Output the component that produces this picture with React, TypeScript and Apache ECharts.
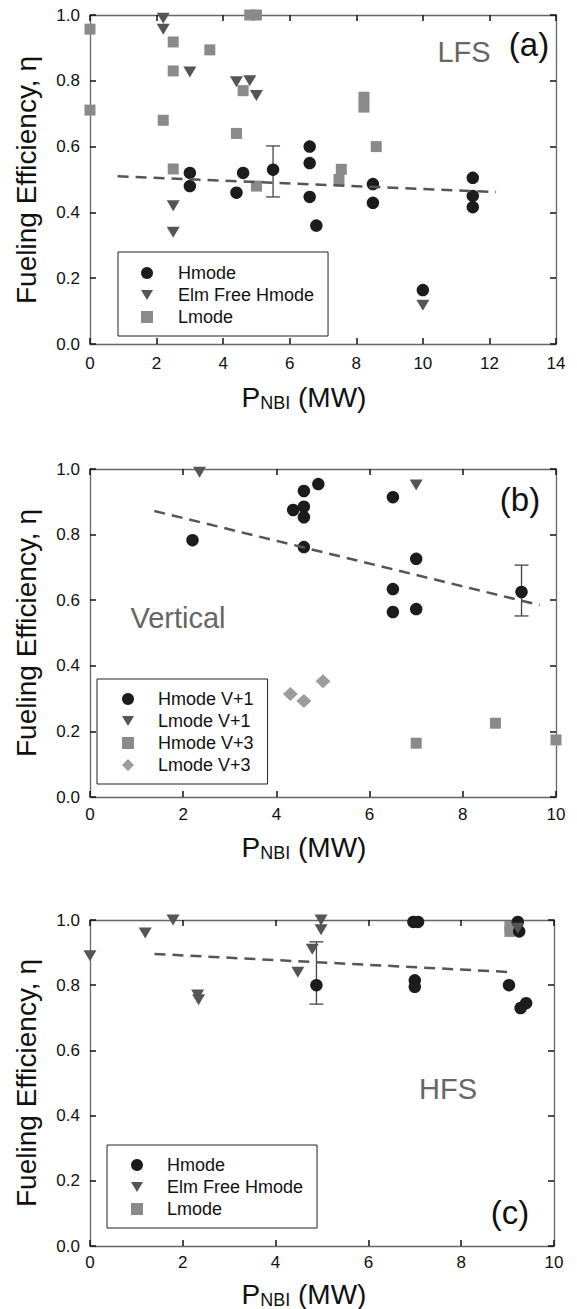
import React, { useEffect, useRef } from "react";
import * as echarts from "echarts";

// ---------- Data ----------
// Panel (a) LFS
const lfsHmode: number[][] = [
  [3.0, 0.52], [3.0, 0.48], [4.4, 0.46], [4.6, 0.52], [5.5, 0.53], [6.6, 0.6], [6.6, 0.55],
  [6.6, 0.447], [6.8, 0.36], [8.5, 0.486], [8.5, 0.429], [10.0, 0.164], [11.5, 0.505],
  [11.5, 0.45], [11.5, 0.416],
];
const lfsElmFree: number[][] = [
  [2.2, 0.99], [2.2, 0.957], [3.0, 0.827], [4.4, 0.797], [4.8, 0.8], [5.0, 0.755],
  [2.5, 0.42], [2.5, 0.34], [10.0, 0.118],
];
const lfsLmode: number[][] = [
  [0, 0.957], [0, 0.711], [2.2, 0.68], [2.5, 0.918], [2.5, 0.83], [2.5, 0.532], [3.6, 0.894],
  [4.4, 0.64], [4.6, 0.77], [4.8, 1.0], [5.0, 1.0], [5.0, 0.48], [7.55, 0.531], [7.48, 0.5],
  [8.23, 0.75], [8.23, 0.72], [8.6, 0.6],
];
const lfsFit: number[][] = [[0.83, 0.51], [12.2, 0.462]];
const lfsErr: number[][] = [[5.5, 0.447, 0.602]];

// Panel (b) Vertical
const vertHmodeV1: number[][] = [
  [2.2, 0.783], [4.36, 0.875], [4.59, 0.885], [4.59, 0.933], [4.59, 0.853], [4.59, 0.762],
  [4.9, 0.954], [6.5, 0.914], [6.5, 0.634], [6.5, 0.564], [7.0, 0.726], [7.0, 0.573], [9.26, 0.625],
];
const vertLmodeV1: number[][] = [[2.35, 0.99], [7.0, 0.951]];
const vertHmodeV3: number[][] = [[7.0, 0.164], [8.7, 0.225], [10.0, 0.174]];
const vertLmodeV3: number[][] = [[4.3, 0.314], [4.59, 0.293], [5.0, 0.353]];
const vertFit: number[][] = [[1.38, 0.872], [9.65, 0.585]];
const vertErr: number[][] = [[9.26, 0.552, 0.707]];

// Panel (c) HFS
const hfsHmode: number[][] = [
  [4.88, 0.8], [6.97, 0.994], [7.07, 0.994], [7.0, 0.815], [7.0, 0.795], [9.03, 0.8],
  [9.22, 0.994], [9.25, 0.965], [9.28, 0.73], [9.4, 0.745],
];
const hfsElmFree: number[][] = [
  [0, 0.89], [1.19, 0.96], [1.79, 1.0], [2.32, 0.77], [2.34, 0.755], [4.48, 0.84],
  [4.79, 0.91], [4.98, 1.0], [4.98, 0.97], [9.22, 0.975],
];
const hfsLmode: number[][] = [[9.05, 0.98], [9.05, 0.965]];
const hfsFit: number[][] = [[1.39, 0.896], [9.1, 0.84]];
const hfsErr: number[][] = [[4.88, 0.742, 0.933]];

// Axis ranges / ticks
const xMaxA = 14;
const xMaxB = 10;
const xMaxC = 10;
const xInterval = 2;
const yMax = 1;
const yInterval = 0.2;

const yTitle = "Fueling Efficiency, η";
const xTitle = "{a|P}{b|NBI}{a| (MW)}";

// ---------- Styles ----------
const FONT = "'Liberation Sans', Arial, Helvetica, sans-serif";
const C_CIRCLE = "#1c1c1c";
const C_TRI = "#555555";
const C_SQUARE = "#8a8a8a";
const C_DIAMOND = "#9c9c9c";
const AXIS_COLOR = "#666";
const TRI_ICON = "path://M0,0L12,0L6,10Z";

function axesFor(gridIndex: number, xmax: number, margin: number) {
  const line = { show: true, onZero: false, lineStyle: { color: AXIS_COLOR, width: 1.3 } };
  const tick = { show: true, inside: true, length: 6, lineStyle: { color: "#111", width: 1.5 } };
  const label = { fontSize: 17, color: "#111", fontFamily: FONT };
  const xBase = {
    gridIndex, type: "value", min: 0, max: xmax, interval: xInterval,
    axisLine: line, axisTick: tick, splitLine: { show: false },
  };
  const yBase = {
    gridIndex, type: "value", min: 0, max: yMax, interval: yInterval,
    axisLine: line, axisTick: tick, splitLine: { show: false },
  };
  return {
    x: [
      { ...xBase, position: "bottom", axisLabel: { ...label, margin, showMinLabel: true, showMaxLabel: true } },
      { ...xBase, position: "top", axisLabel: { show: false } },
    ],
    y: [
      { ...yBase, position: "left", axisLabel: { ...label, margin: 10, formatter: (v: number) => v.toFixed(1) } },
      { ...yBase, position: "right", axisLabel: { show: false } },
    ],
  };
}

function scatter(name: string, data: number[][], idx: number, kind: string) {
  const base: any = {
    name, type: "scatter", data, xAxisIndex: idx * 2, yAxisIndex: idx * 2, clip: false,
  };
  if (kind === "circle") return { ...base, symbol: "circle", symbolSize: 12.5, itemStyle: { color: C_CIRCLE, opacity: 1 } };
  if (kind === "tri") return { ...base, symbol: "triangle", symbolRotate: 180, symbolSize: [13, 11], itemStyle: { color: C_TRI, opacity: 1 } };
  if (kind === "square") return { ...base, symbol: "rect", symbolSize: 11, itemStyle: { color: C_SQUARE, opacity: 1 } };
  return { ...base, symbol: "diamond", symbolSize: [15, 14], itemStyle: { color: C_DIAMOND, opacity: 1 } };
}

function fitLine(name: string, data: number[][], idx: number) {
  return {
    name, type: "line", data, xAxisIndex: idx * 2, yAxisIndex: idx * 2, symbol: "none",
    lineStyle: { color: "#555", width: 2.5, type: [11, 7] }, z: 5, silent: true,
  };
}

function errBars(name: string, data: number[][], idx: number) {
  return {
    name, type: "custom", data, xAxisIndex: idx * 2, yAxisIndex: idx * 2, z: 1,
    encode: { x: 0, y: [1, 2] },
    renderItem: (_p: any, api: any) => {
      const x = api.value(0);
      const lo = api.coord([x, api.value(1)]);
      const hi = api.coord([x, api.value(2)]);
      const cap = 7;
      const st = { stroke: "#444", lineWidth: 1.3 };
      return {
        type: "group",
        children: [
          { type: "line", shape: { x1: lo[0], y1: lo[1], x2: hi[0], y2: hi[1] }, style: st },
          { type: "line", shape: { x1: lo[0] - cap, y1: lo[1], x2: lo[0] + cap, y2: lo[1] }, style: st },
          { type: "line", shape: { x1: hi[0] - cap, y1: hi[1], x2: hi[0] + cap, y2: hi[1] }, style: st },
        ],
      };
    },
  };
}

function legendFor(names: { name: string; icon: string }[], left: number, top: number, padding: number[], textPad: number) {
  return {
    orient: "vertical", left, top, padding, itemWidth: 12, itemHeight: 12, itemGap: 4,
    borderColor: "#222", borderWidth: 1, selectedMode: false,
    data: names,
    formatter: (n: string) => `{t|${n}}`,
    textStyle: {
      fontSize: 18, fontFamily: FONT, color: "#111",
      rich: { t: { fontSize: 18, fontFamily: FONT, color: "#111", padding: [0, 0, 0, textPad], lineHeight: 18 } },
    },
  };
}

function txt(text: string, x: number, y: number, size: number, color: string, rotation = 0) {
  return {
    type: "text", x, y, rotation, silent: true,
    style: {
      text, fontSize: size, fontFamily: FONT, fill: color,
      align: "center", verticalAlign: "middle", textAlign: "center", textVerticalAlign: "middle",
    },
  };
}

function xTitleText(x: number, y: number) {
  return {
    type: "text", x, y, silent: true,
    style: {
      text: xTitle, fill: "#111",
      align: "center", verticalAlign: "middle", textAlign: "center", textVerticalAlign: "middle",
      rich: {
        a: { fontSize: 28, fontFamily: FONT, fill: "#111", color: "#111" },
        b: { fontSize: 18, fontFamily: FONT, fill: "#111", color: "#111", padding: [12, 0, 0, 0] },
      },
    },
  };
}

export default function App() {
  const ref = useRef<HTMLDivElement>(null);
  useEffect(() => {
    if (!ref.current) return;
    const chart = echarts.init(ref.current, undefined, { renderer: "svg" });
    const a = axesFor(0, xMaxA, 11);
    const b = axesFor(1, xMaxB, 9);
    const c = axesFor(2, xMaxC, 8);
    const option: any = {
      animation: false,
      backgroundColor: "#fff",
      grid: [
        { left: 90, top: 15, width: 466, height: 329 },
        { left: 90, top: 469, width: 466, height: 328 },
        { left: 90, top: 920, width: 464, height: 326 },
      ],
      xAxis: [...a.x, ...b.x, ...c.x],
      yAxis: [...a.y, ...b.y, ...c.y],
      legend: [
        legendFor(
          [{ name: "Hmode", icon: "circle" }, { name: "Elm Free Hmode", icon: TRI_ICON }, { name: "Lmode", icon: "rect" }],
          118, 252, [12, 14, 10, 23], 20
        ),
        legendFor(
          [
            { name: "Hmode V+1", icon: "circle" }, { name: "Lmode V+1", icon: TRI_ICON },
            { name: "Hmode V+3", icon: "rect" }, { name: "Lmode V+3", icon: "diamond" },
          ],
          97, 679, [11, 14, 10, 25], 19
        ),
        legendFor(
          [{ name: "Hmode", icon: "circle" }, { name: "Elm Free Hmode", icon: TRI_ICON }, { name: "Lmode", icon: "rect" }],
          107, 1145, [11, 14, 10, 24], 19
        ),
      ],
      series: [
        errBars("LFS error", lfsErr, 0),
        scatter("Lmode", lfsLmode, 0, "square"),
        scatter("Hmode", lfsHmode, 0, "circle"),
        scatter("Elm Free Hmode", lfsElmFree, 0, "tri"),
        fitLine("LFS fit", lfsFit, 0),

        errBars("Vertical error", vertErr, 1),
        scatter("Hmode V+3", vertHmodeV3, 1, "square"),
        scatter("Lmode V+3", vertLmodeV3, 1, "diamond"),
        scatter("Hmode V+1", vertHmodeV1, 1, "circle"),
        scatter("Lmode V+1", vertLmodeV1, 1, "tri"),
        fitLine("Vertical fit", vertFit, 1),

        errBars("HFS error", hfsErr, 2),
        scatter("Lmode", hfsLmode, 2, "square"),
        scatter("Hmode", hfsHmode, 2, "circle"),
        scatter("Elm Free Hmode", hfsElmFree, 2, "tri"),
        fitLine("HFS fit", hfsFit, 2),
      ],
      graphic: {
        elements: [
          txt(yTitle, 26, 180, 28, "#111", Math.PI / 2),
          txt(yTitle, 26, 633, 28, "#111", Math.PI / 2),
          txt(yTitle, 26, 1083, 28, "#111", Math.PI / 2),
          xTitleText(304, 397),
          xTitleText(304, 847),
          xTitleText(304, 1294),
          txt("LFS", 464, 52, 29, "#666"),
          txt("(a)", 529, 44, 33, "#111"),
          txt("Vertical", 178, 618, 29, "#666"),
          txt("(b)", 520, 499, 33, "#111"),
          txt("HFS", 448, 1089, 29, "#666"),
          txt("(c)", 510, 1212, 33, "#111"),
        ],
      },
    };
    chart.setOption(option);
    return () => chart.dispose();
  }, []);
  return (
    <div
      ref={ref}
      style={{ position: "absolute", left: 0, top: 0, width: 577, height: 1309, background: "#fff" }}
    />
  );
}
